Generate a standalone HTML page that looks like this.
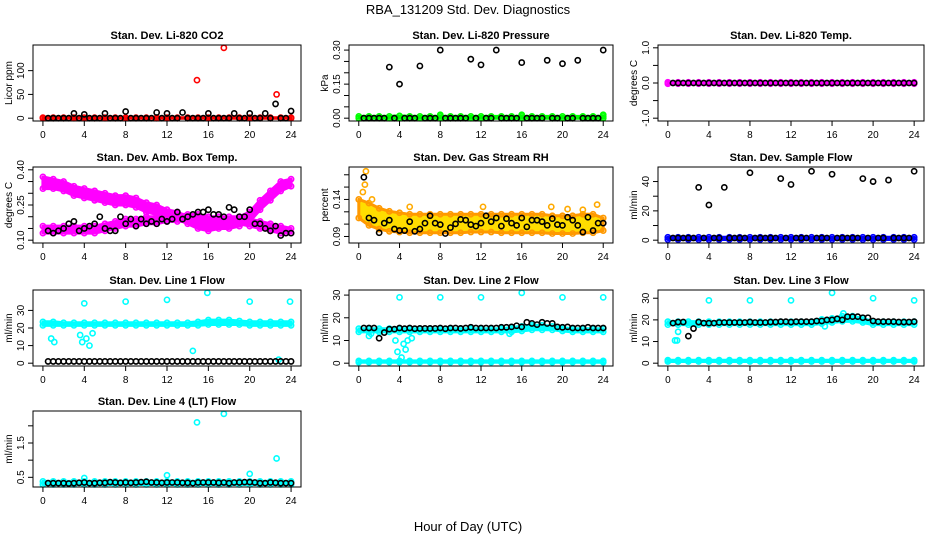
<!DOCTYPE html>
<html><head><meta charset="utf-8">
<style>
html,body{margin:0;padding:0;background:#fff;}
svg{display:block;font-family:"Liberation Sans",Arial,sans-serif;}
</style></head>
<body>
<svg id="chart" width="936" height="540" viewBox="0 0 936 540">
<text x="468" y="14" text-anchor="middle" font-size="13">RBA_131209  Std. Dev. Diagnostics</text>
<text x="468" y="531" text-anchor="middle" font-size="13">Hour of Day (UTC)</text>
</svg>
<script>
// ---- shared categories ----
const halfHours = [0.5,1,1.5,2,2.5,3,3.5,4,4.5,5,5.5,6,6.5,7,7.5,8,8.5,9,9.5,10,10.5,11,11.5,12,12.5,13,13.5,14,14.5,15,15.5,16,16.5,17,17.5,18,18.5,19,19.5,20,20.5,21,21.5,22,22.5,23,23.5,24];
const hours = [0,1,2,3,4,5,6,7,8,9,10,11,12,13,14,15,16,17,18,19,20,21,22,23,24];
const xTicks = [0,4,8,12,16,20,24];

// ---- CO2 ----
const co2Black = [0,0,0,0,0,10,0,8,0,0,0,10,0,0,0,14,0,0,0,0,0,12,0,10,0,0,12,0,0,0,0,10,0,0,0,0,10,0,0,10,0,0,10,0,30,0,0,15];
const co2BandLo = [0,0,0,0,0,0,0,0,0,0,0,0,0,0,0,0,0,0,0,0,0,0,0,0,0];
const co2BandHi = [1,1,1,1,1,1,1,1,1,1,1,1,1,1,1,1,1,1,1,1,1,1,1,1,1];
const co2OutT = [14.9,17.5,22.6];
const co2OutV = [80,148,50];
// ---- Pressure ----
const prBlack = [0,0,0,0,0,0.225,0,0.15,0,0,0,0.23,0,0,0,0.30,0,0,0,0,0,0.26,0,0.235,0,0,0.30,0,0,0,0,0.245,0,0,0,0,0.255,0,0,0.24,0,0,0.255,0,0,0,0,0.30];
const prBandLo = [0,0,0,0,0,0,0,0,0,0,0,0,0,0,0,0,0,0,0,0,0,0,0,0,0];
const prBandHi = [0.008,0.008,0.008,0.008,0.01,0.008,0.008,0.008,0.008,0.008,0.008,0.008,0.008,0.008,0.008,0.008,0.008,0.008,0.008,0.008,0.008,0.008,0.008,0.008,0.008];
const prOutT = [8,16,24];
const prOutV = [0.015,0.015,0.015];
// ---- Temp ----
const tmpBlack = [0,0,0,0,0,0,0,0,0,0,0,0,0,0,0,0,0,0,0,0,0,0,0,0,0,0,0,0,0,0,0,0,0,0,0,0,0,0,0,0,0,0,0,0,0,0,0,0];
const tmpBandLo = [-0.02,-0.02,-0.02,-0.02,-0.02,-0.02,-0.02,-0.02,-0.02,-0.02,-0.02,-0.02,-0.02,-0.02,-0.02,-0.02,-0.02,-0.02,-0.02,-0.02,-0.02,-0.02,-0.02,-0.02,-0.02];
const tmpBandHi = [0.02,0.02,0.02,0.02,0.02,0.02,0.02,0.02,0.02,0.02,0.02,0.02,0.02,0.02,0.02,0.02,0.02,0.02,0.02,0.02,0.02,0.02,0.02,0.02,0.02];
// ---- Ambient box temp ----
const ambBlack = [0.14,0.13,0.14,0.15,0.17,0.18,0.14,0.15,0.16,0.17,0.20,0.15,0.14,0.14,0.20,0.17,0.19,0.16,0.19,0.17,0.18,0.17,0.19,0.18,0.19,0.22,0.19,0.20,0.21,0.22,0.22,0.23,0.21,0.21,0.20,0.24,0.23,0.20,0.20,0.23,0.17,0.17,0.15,0.14,0.16,0.12,0.13,0.13];
const ambUpLo = [0.32,0.32,0.31,0.29,0.28,0.27,0.26,0.25,0.25,0.24,0.22,0.21,0.20,0.19,0.17,0.15,0.14,0.15,0.15,0.16,0.18,0.23,0.27,0.31,0.33];
const ambUpHi = [0.37,0.36,0.35,0.33,0.32,0.31,0.30,0.29,0.29,0.28,0.26,0.25,0.23,0.22,0.20,0.19,0.18,0.19,0.19,0.20,0.22,0.27,0.31,0.35,0.36];
const ambLowLo = [0.13,0.13,0.13,0.13,0.13,0.13,0.14,0.15,0.16,0.16,0.17,0.17,0.18,0.18,0.18,0.18,0.17,0.17,0.17,0.17,0.16,0.15,0.14,0.13,0.13];
const ambLowHi = [0.16,0.16,0.16,0.16,0.16,0.16,0.17,0.18,0.19,0.19,0.20,0.20,0.21,0.21,0.21,0.21,0.20,0.20,0.20,0.20,0.19,0.18,0.17,0.16,0.15];
// ---- Gas stream RH ----
const rhBlack = [0.17,0.115,0.112,0.095,0.108,0.112,0.1,0.098,0.098,0.11,0.097,0.10,0.108,0.118,0.108,0.106,0.094,0.102,0.107,0.113,0.112,0.106,0.104,0.108,0.118,0.11,0.115,0.104,0.114,0.108,0.105,0.115,0.103,0.112,0.112,0.11,0.105,0.114,0.106,0.105,0.116,0.112,0.105,0.096,0.116,0.098,0.108,0.108];
const rhBandLo = [0.115,0.105,0.1,0.097,0.096,0.095,0.095,0.095,0.095,0.095,0.095,0.096,0.096,0.096,0.095,0.095,0.095,0.095,0.095,0.094,0.094,0.094,0.095,0.095,0.098];
const rhBandHi = [0.14,0.135,0.128,0.124,0.122,0.12,0.12,0.12,0.12,0.12,0.12,0.12,0.12,0.12,0.12,0.12,0.12,0.12,0.12,0.118,0.118,0.118,0.12,0.12,0.115];
const rhOutT = [0.7,0.6,0.4,1.3,5,12.2,18.9,20.5,22,23.4];
const rhOutV = [0.178,0.16,0.15,0.14,0.13,0.13,0.13,0.127,0.126,0.133];
// ---- Sample flow ----
const sfBlack = [1.5,1.5,1.5,1.5,1.5,36,1.5,24,1.5,1.5,36,1.5,1.5,1.5,1.5,46,1.5,1.5,1.5,1.5,1.5,42,1.5,38,1.5,1.5,1.5,47,1.5,1.5,1.5,45,1.5,1.5,1.5,1.5,1.5,42,1.5,40,1.5,1.5,41,1.5,1.5,1.5,1.5,47];
const sfBandLo = [0.5,0.5,0.5,0.5,0.5,0.5,0.5,0.5,0.5,0.5,0.5,0.5,0.5,0.5,0.5,0.5,0.5,0.5,0.5,0.5,0.5,0.5,0.5,0.5,0.5];
const sfBandHi = [2,2,2,2,2,2,2,2,2,2,2,2,2,2,2,2,2,2,2,2,2,2,2,2,2];
// ---- Line 1 ----
const l1Black = [1,1,1,1,1,1,1,1,1,1,1,1,1,1,1,1,1,1,1,1,1,1,1,1,1,1,1,1,1,1,1,1,1,1,1,1,1,1,1,1,1,1,1,1,1,1,1,1];
const l1BandLo = [21.5,21.5,21.5,21.5,21.5,21.5,21.5,21.5,21.5,21.5,21.5,21.5,21.5,21.5,21.5,21.5,22,22,22,22,21.5,21.5,21.5,21.5,21.5];
const l1BandHi = [23.5,23.5,23,23,23,23,23,23,23,23,23,23,23,23,23,23.5,24.5,24.5,24.5,24,23.5,23.5,23.5,23.5,23.5];
const l1OutT = [4,4.2,3.8,4.5,8,12,15.9,20,23.9,22.8,0.8,1.1,14.5,3.6,4.8];
const l1OutV = [34,14,12,10,35,36,40,35,35,2,14,12,7,16,17];
// ---- Line 2 ----
const l2Black = [15.5,15.5,15.5,11,13.5,15,15,15.5,15.2,15.5,15.2,15.3,15.3,15.3,15.3,15.5,15.2,15.5,15.5,15.3,15.5,15.8,15.5,15.5,15.5,15.5,15.5,15.8,15.8,16,16.5,16,18,17.5,17,18,17.5,17.5,16,15.8,16,15.5,15.5,15.5,15.8,15.5,15.5,15.5];
const l2BandLo = [13.8,13.8,13.8,13.8,13.8,13.8,13.8,13.8,13.8,13.8,13.8,13.8,13.8,13.8,13.8,13.8,14.2,14.7,14.7,14.7,14.2,13.8,13.8,13.8,13.8];
const l2BandHi = [15.2,15.2,15.2,15.2,15.2,15.2,15.2,15.2,15.2,15.2,15.2,15.2,15.2,15.2,15.2,15.7,16.2,16.7,16.7,16.2,15.7,15.2,15.2,15.2,15.2];
const l2BaseLo = [0.4,0.4,0.4,0.4,0.4,0.4,0.4,0.4,0.4,0.4,0.4,0.4,0.4,0.4,0.4,0.4,0.4,0.4,0.4,0.4,0.4,0.4,0.4,0.4,0.4];
const l2BaseHi = [1,1,1,1,1,1,1,1,1,1,1,1,1,1,1,1,1,1,1,1,1,1,1,1,1];
const l2OutT = [4,8,12,16,20,24,3.6,3.8,4.2,4.4,4.6,4.8,5.2,1,1.2,14.8];
const l2OutV = [29,29,29,31,29,29,10,5,2.5,8.5,6,10,11,12,13,13];
// ---- Line 3 ----
const l3Black = [18.5,19,19,12.5,16,19,18.5,18.5,18.5,18.8,18.8,18.8,18.8,18.8,18.8,19,18.8,18.8,18.8,19,19,19.2,19.2,19,19.2,19.2,19.2,19.2,19.5,19.5,20,20,20.5,20,21.5,21.5,21.5,21,21,19.5,19.2,19.2,19.2,19.2,19,19,19,19.2];
const l3BandLo = [17.8,17.8,17.8,17.8,17.8,17.8,17.8,17.8,17.8,17.8,17.8,17.8,17.8,17.8,17.8,18.3,18.8,19.3,19.3,18.8,17.8,17.8,17.8,17.8,17.8];
const l3BandHi = [19.2,19.2,19.2,19.2,19.2,19.2,19.2,19.2,19.2,19.2,19.2,19.2,19.2,19.2,19.2,20.2,20.7,21.7,21.7,20.7,19.2,19.2,19.2,19.2,19.2];
const l3BaseLo = [0.8,0.8,0.8,0.8,0.8,0.8,0.8,0.8,0.8,0.8,0.8,0.8,0.8,0.8,0.8,0.8,0.8,0.8,0.8,0.8,0.8,0.8,0.8,0.8,0.8];
const l3BaseHi = [1.4,1.4,1.4,1.4,1.4,1.4,1.4,1.4,1.4,1.4,1.4,1.4,1.4,1.4,1.4,1.4,1.4,1.4,1.4,1.4,1.4,1.4,1.4,1.4,1.4];
const l3OutT = [4,8,12,16,20,24,0.7,0.9,1.0,15.3,17.1];
const l3OutV = [29,29,29,32.5,30,29,10.5,10.5,14.5,17,23];
// ---- Line 4 ----
const l4Black = [0.33,0.33,0.33,0.33,0.32,0.33,0.34,0.35,0.33,0.33,0.34,0.34,0.36,0.35,0.34,0.35,0.34,0.35,0.36,0.37,0.35,0.35,0.34,0.35,0.35,0.35,0.34,0.34,0.33,0.35,0.35,0.35,0.35,0.34,0.35,0.33,0.35,0.35,0.36,0.36,0.35,0.33,0.33,0.35,0.34,0.33,0.33,0.33];
const l4BandLo = [0.29,0.29,0.29,0.29,0.29,0.29,0.29,0.29,0.29,0.29,0.29,0.29,0.29,0.29,0.29,0.29,0.29,0.29,0.29,0.29,0.29,0.29,0.29,0.29,0.29];
const l4BandHi = [0.38,0.38,0.38,0.38,0.38,0.38,0.38,0.38,0.38,0.38,0.38,0.38,0.38,0.38,0.38,0.38,0.38,0.38,0.38,0.38,0.38,0.38,0.38,0.38,0.38];
const l4OutT = [4,12,14.9,17.5,20,22.6];
const l4OutV = [0.48,0.56,2.1,2.35,0.6,1.05];

const NS = 'http://www.w3.org/2000/svg';
const svg = document.getElementById('chart');
function mk(tag, attrs, parent){
  const e = document.createElementNS(NS, tag);
  for (const k in attrs) e.setAttribute(k, attrs[k]);
  (parent||svg).appendChild(e);
  return e;
}
const CY='#00ffff', BK='#000000', MG='#ff00ff';
const panels = [
 {name:'co2', title:'Stan. Dev. Li-820 CO2', ylab:'Licor ppm', col:0,row:0, ylim:[0,148], yt:[0,50,100], yl:[0,50,100], fmt:v=>String(v),
  bands:[[co2BandLo,co2BandHi,'#ff0000',null]], base:'#ff0000', black:co2Black, outs:[[co2OutT,co2OutV,'#ff0000']]},
 {name:'pressure', title:'Stan. Dev. Li-820 Pressure', ylab:'kPa', col:1,row:0, ylim:[0,0.31], yt:[0,0.05,0.1,0.15,0.2,0.25,0.3], yl:[0,0.15,0.3], fmt:v=>v.toFixed(2),
  bands:[[prBandLo,prBandHi,'#00ff00',null]], base:'#00ff00', black:prBlack, outs:[[prOutT,prOutV,'#00ff00']]},
 {name:'temp', title:'Stan. Dev. Li-820 Temp.', ylab:'degrees C', col:2,row:0, ylim:[-1,1], yt:[-1,-0.5,0,0.5,1], yl:[-1,0,1], fmt:v=>v.toFixed(1),
  bands:[[tmpBandLo,tmpBandHi,MG,null]], base:MG, black:tmpBlack, outs:[]},
 {name:'amb-temp', title:'Stan. Dev. Amb. Box Temp.', ylab:'degrees C', col:0,row:1, ylim:[0.10,0.40], yt:[0.10,0.15,0.20,0.25,0.30,0.35,0.40], yl:[0.10,0.25,0.40], fmt:v=>v.toFixed(2),
  bands:[[ambUpLo,ambUpHi,MG,null],[ambLowLo,ambLowHi,MG,null]], base:MG, black:ambBlack, outs:[]},
 {name:'rh', title:'Stan. Dev. Gas Stream RH', ylab:'percent', col:1,row:1, ylim:[0.085,0.18], yt:[0.09,0.1067,0.1233,0.14,0.1567,0.1733], yl:[0.09,0.14], fmt:v=>v.toFixed(2),
  bands:[[rhBandLo,rhBandHi,'#ff9900','#ffdd00']], base:'#ff9900', black:rhBlack, outs:[[rhOutT,rhOutV,'#ffaa00']]},
 {name:'sample-flow', title:'Stan. Dev. Sample Flow', ylab:'ml/min', col:2,row:1, ylim:[0,48], yt:[0,10,20,30,40], yl:[0,20,40], fmt:v=>String(v),
  bands:[[sfBandLo,sfBandHi,'#0000ff',null]], base:'#0000ff', black:sfBlack, outs:[]},
 {name:'line1-flow', title:'Stan. Dev. Line 1 Flow', ylab:'ml/min', col:0,row:2, ylim:[0,40], yt:[0,10,20,30], yl:[0,10,20,30], fmt:v=>String(v),
  bands:[[l1BandLo,l1BandHi,CY,null]], base:CY, black:l1Black, outs:[[l1OutT,l1OutV,CY]]},
 {name:'line2-flow', title:'Stan. Dev. Line 2 Flow', ylab:'ml/min', col:1,row:2, ylim:[0,31], yt:[0,10,20,30], yl:[0,10,20,30], fmt:v=>String(v),
  bands:[[l2BandLo,l2BandHi,CY,null],[l2BaseLo,l2BaseHi,CY,null]], base:CY, black:l2Black, outs:[[l2OutT,l2OutV,CY]]},
 {name:'line3-flow', title:'Stan. Dev. Line 3 Flow', ylab:'ml/min', col:2,row:2, ylim:[0,32.5], yt:[0,10,20,30], yl:[0,10,20,30], fmt:v=>String(v),
  bands:[[l3BandLo,l3BandHi,CY,null],[l3BaseLo,l3BaseHi,CY,null]], base:CY, black:l3Black, outs:[[l3OutT,l3OutV,CY]]},
 {name:'line4-flow', title:'Stan. Dev. Line 4 (LT) Flow', ylab:'ml/min', col:0,row:3, ylim:[0.3,2.35], yt:[0.5,1.0,1.5,2.0], yl:[0.5,1.5], fmt:v=>v.toFixed(1),
  bands:[[l4BandLo,l4BandHi,CY,null]], base:CY, black:l4Black, outs:[[l4OutT,l4OutV,CY]]}
];
const colL=[33,349,658], colR=[301,613,924], rowT=[45,167,290,411], H=76;

panels.forEach(p=>{
  const L=colL[p.col], R=colR[p.col], T=rowT[p.row], B=T+H, W=R-L;
  const g = mk('g',{});
  
  
  const pad=(p.ylim[1]-p.ylim[0])*0.04;
  const y0=p.ylim[0]-pad, y1=p.ylim[1]+pad;
  const xs=t=>L+(t+0.96)/25.92*W;
  const ys=v=>B-(v-y0)/(y1-y0)*H;
  p.bands.forEach((b,bi)=>{
    let d='';
    hours.forEach((h,i)=>{d+=(i?'L':'M')+xs(h).toFixed(1)+','+ys(b[1][i]).toFixed(1);});
    for(let i=hours.length-1;i>=0;i--) d+='L'+xs(hours[i]).toFixed(1)+','+ys(b[0][i]).toFixed(1);
    const band = mk('path',{d:d+'Z', fill:b[3]||b[2], stroke:b[2], 'stroke-width':3, 'stroke-linejoin':'round'}, g);
    
    
  });
  p.bands.forEach(b=>{
    hours.forEach((h,i)=>{
      [b[0][i],b[1][i]].forEach(v=>{
        const c = mk('circle',{cx:xs(h),cy:ys(v),r:2.6,fill:'none',stroke:p.base,'stroke-width':1.6},g);
        
        
      });
    });
  });
  p.outs.forEach(o=>{
    o[0].forEach((t,i)=>{
      const c = mk('circle',{cx:xs(t),cy:ys(o[1][i]),r:2.6,fill:'none',stroke:o[2],'stroke-width':1.6},g);
      
      
    });
  });
  halfHours.forEach((t,i)=>{
    const c = mk('circle',{cx:xs(t),cy:ys(p.black[i]),r:2.6,fill:'none',stroke:BK,'stroke-width':1.6},g);
    
    
  });
  const box = mk('rect',{x:L,y:T,width:W,height:H,fill:'none',stroke:'#000','stroke-width':1},g);
  
  
  mk('line',{x1:xs(0),x2:xs(24),y1:B,y2:B,stroke:'#000'},g);
  xTicks.forEach(t=>{
    mk('line',{x1:xs(t),x2:xs(t),y1:B,y2:B+5,stroke:'#000'},g);
    const tx = mk('text',{x:xs(t),y:B+17,'text-anchor':'middle','font-size':10},g);
    tx.textContent=t;
    
    
  });
  mk('line',{x1:L,x2:L,y1:ys(p.yt[0]),y2:ys(p.yt[p.yt.length-1]),stroke:'#000'},g);
  p.yt.forEach(v=>{ mk('line',{x1:L-5,x2:L,y1:ys(v),y2:ys(v),stroke:'#000'},g); });
  p.yl.forEach(v=>{
    const tx = mk('text',{x:0,y:0,'text-anchor':'middle','font-size':10,transform:'translate('+(L-9)+','+ys(v).toFixed(1)+') rotate(-90)'},g);
    tx.textContent=p.fmt(v);
    
    
  });
  const yl = mk('text',{x:0,y:0,'text-anchor':'middle','font-size':10,transform:'translate('+(L-21)+','+(T+H/2)+') rotate(-90)'},g);
  yl.textContent=p.ylab;
  
  
  const tt = mk('text',{x:(L+R)/2,y:T-6,'text-anchor':'middle','font-size':11,'font-weight':'bold'},g);
  tt.textContent=p.title;
  
  
});
</script>
</body></html>
